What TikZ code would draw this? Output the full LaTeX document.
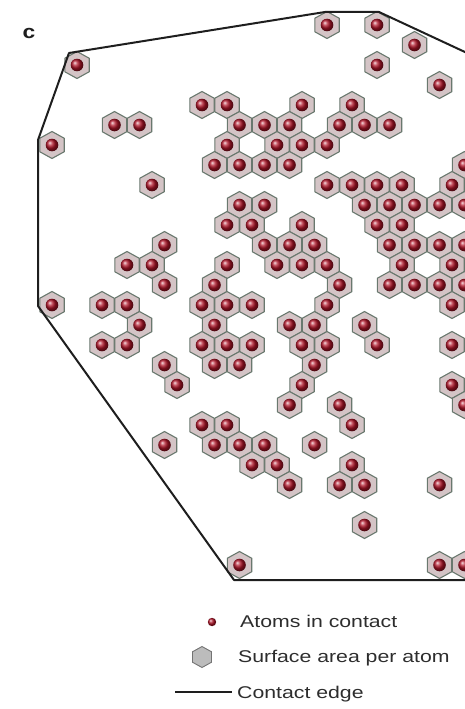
\documentclass[tikz,border=0pt]{standalone}
\usepackage{fontspec}
\setmainfont{Liberation Sans}
\usepackage{graphicx}
\usepackage{tikz}

\definecolor{hexfill}{RGB}{212,196,198}
\definecolor{hexedge}{RGB}{105,120,110}
\definecolor{atomred}{RGB}{175,20,40}
\definecolor{edgeblack}{RGB}{30,30,30}
\definecolor{textgrey}{RGB}{45,45,45}
\definecolor{keyfill}{RGB}{188,188,188}
\definecolor{keyedge}{RGB}{115,115,115}

\newcommand{\legendfont}{\fontsize{17}{20}\selectfont}

\begin{document}
\begin{tikzpicture}[
        x=1pt, y=-1pt,
        cellhex/.style={fill=hexfill, draw=hexedge, line width=1.1pt},
        atom/.style={shading=ball, ball color=atomred},
        contactline/.style={draw=edgeblack, line width=2pt, line join=round},
        legendtext/.style={anchor=base west, inner sep=0pt, font=\legendfont, text=textgrey}
    ]
    \useasboundingbox (0,0) rectangle (465,709);

    \node[font=\bfseries\fontsize{19}{19}\selectfont, text=edgeblack] (panel) at (29,33) {\scalebox{1.2}[1]{c}};

    % hexagon cells: row / doubled column indices
    \begin{scope}
        \clip (0,0) rectangle (465,709);
        \foreach \r/\mlist in {
                1/{26,30}, 2/{33}, 3/{6,30}, 4/{35},
                5/{16,18,24,28},
                6/{9,11,19,21,23,27,29,31},
                7/{4,18,22,24,26},
                8/{17,19,21,23,37},
                9/{12,26,28,30,32,36},
                10/{19,21,29,31,33,35,37},
                11/{18,20,24,30,32},
                12/{13,21,23,25,31,33,35,37},
                13/{10,12,18,22,24,26,32,36},
                14/{13,17,27,31,33,35,37},
                15/{4,8,10,16,18,20,26,36},
                16/{11,17,23,25,29},
                17/{8,10,16,18,20,24,26,30,36},
                18/{13,17,19,25},
                19/{14,24,36},
                20/{23,27,37},
                21/{16,18,28},
                22/{13,17,19,21,25},
                23/{20,22,28},
                24/{23,27,29,35},
                26/{29},
                28/{19,35,37}} {
            \foreach \m in \mlist {
                \pgfmathsetmacro\cx{2+12.5*\m}
                \pgfmathsetmacro\cy{5+20*\r}
                \draw[cellhex] (\cx,\cy) ++(0,-13.5) -- ++(12.2,6.75) -- ++(0,13.5)
                    -- ++(-12.2,6.75) -- ++(-12.2,-6.75) -- ++(0,-13.5) -- cycle;
                \shade[atom] (\cx,\cy) circle[radius=6.3pt];
            }
        }

        % contact edge
        \coordinate (e1) at (69,53);
        \coordinate (e2) at (325,12);
        \coordinate (e3) at (379,12);
        \coordinate (e4) at (495,66);
        \coordinate (e5) at (38,140);
        \coordinate (e6) at (38,306);
        \coordinate (e7) at (234,580);
        \coordinate (e8) at (495,580);
        \draw[contactline] (e4) -- (e3) -- (e2) -- (e1) -- (e5) -- (e6) -- (e7) -- (e8);
    \end{scope}

    % legend
    \shade[atom] (212,622) circle[radius=4.2pt];
    \node[legendtext] (atomtxt) at (240,627) {\scalebox{1.25}[1]{Atoms in contact}};

    \draw[fill=keyfill, draw=keyedge, line width=0.9pt] (202,657) ++(0,-10.5) -- ++(9.5,5.25) -- ++(0,10.5)
        -- ++(-9.5,5.25) -- ++(-9.5,-5.25) -- ++(0,-10.5) -- cycle;
    \node[legendtext] (areatxt) at (238,662.5) {\scalebox{1.25}[1]{Surface area per atom}};

    \coordinate (k1) at (175,692);
    \coordinate (k2) at (232,692);
    \draw[contactline] (k1) -- (k2);
    \node[legendtext] (edgetxt) at (237,698) {\scalebox{1.25}[1]{Contact edge}};

\end{tikzpicture}
\end{document}
